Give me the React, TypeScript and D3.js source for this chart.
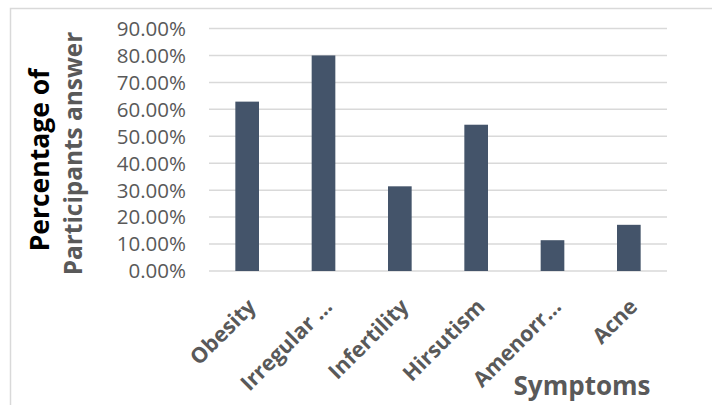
import React, { useEffect, useRef } from 'react';
import * as d3 from 'd3';

const categories = ['Obesity', 'Irregular …', 'Infertility', 'Hirsutism', 'Amenorr…', 'Acne'];
const values = [0.6286, 0.8, 0.3143, 0.5429, 0.1143, 0.1714];
const yTicks = [0, 0.1, 0.2, 0.3, 0.4, 0.5, 0.6, 0.7, 0.8, 0.9];

const App = () => {
  const ref = useRef<SVGSVGElement | null>(null);

  useEffect(() => {
    drawChart();
  }, []);

  const drawChart = () => {
    const width = 712;
    const height = 405;
    const font = "'Open Sans', sans-serif";
    const grey = '#595959';

    const svg = d3.select(ref.current);
    svg.selectAll('*').remove();

    svg.append('rect')
      .attr('x', 10.5).attr('y', 8.5)
      .attr('width', width + 10).attr('height', height + 10)
      .attr('fill', 'white').attr('stroke', '#d9d9d9').attr('stroke-width', 1.5);

    const xScale = d3.scaleBand().domain(categories).range([209, 667]);
    const yScale = d3.scaleLinear().domain([0, 0.9]).range([271, 28.5]);

    // gridlines
    svg.selectAll('line.grid')
      .data(yTicks)
      .enter()
      .append('line')
      .attr('x1', 209).attr('x2', 667)
      .attr('y1', (d) => yScale(d)).attr('y2', (d) => yScale(d))
      .attr('stroke', '#d9d9d9').attr('stroke-width', 1.5);

    // y labels
    svg.selectAll('text.ytick')
      .data(yTicks)
      .enter()
      .append('text')
      .attr('x', 186)
      .attr('y', (d) => yScale(d))
      .attr('dy', '0.36em')
      .attr('text-anchor', 'end')
      .attr('font-family', font).attr('font-size', 20.5).attr('fill', grey)
      .text((d) => d3.format('.2%')(d));

    const barW = xScale.bandwidth() * 0.31;
    svg.selectAll('rect.bar')
      .data(values)
      .enter()
      .append('rect')
      .attr('x', (d, i) => xScale(categories[i])! + xScale.bandwidth() / 2 - barW / 2)
      .attr('y', (d) => yScale(d))
      .attr('width', barW)
      .attr('height', (d) => yScale(0) - yScale(d))
      .attr('fill', '#44546a');

    // x labels, rotated
    svg.selectAll('text.xtick')
      .data(categories)
      .enter()
      .append('text')
      .attr('transform', (d) => `translate(${xScale(d)! + xScale.bandwidth() / 2 + 10},${308}) rotate(-45)`)
      .attr('text-anchor', 'end')
      .attr('font-family', font).attr('font-size', 21.5).attr('font-weight', 'bold').attr('fill', grey)
      .text((d) => d);

    svg.append('text')
      .attr('x', 582).attr('y', 395)
      .attr('text-anchor', 'middle')
      .attr('font-family', font).attr('font-size', 26).attr('font-weight', 'bold').attr('fill', grey)
      .text('Symptoms');

    svg.append('text')
      .attr('transform', 'translate(49,160) rotate(-90)')
      .attr('text-anchor', 'middle')
      .attr('font-family', font).attr('font-size', 26.5).attr('font-weight', 'bold').attr('fill', '#000')
      .text('Percentage of');

    svg.append('text')
      .attr('transform', 'translate(82,153.5) rotate(-90)')
      .attr('text-anchor', 'middle')
      .attr('font-family', font).attr('font-size', 24.4).attr('font-weight', 'bold').attr('fill', grey)
      .text('Participants answer');
  };

  return (
    <div style={{ position: 'absolute', left: 0, top: 0 }}>
      <svg ref={ref} width={712} height={405} style={{ display: 'block' }} />
    </div>
  );
};

export default App;
